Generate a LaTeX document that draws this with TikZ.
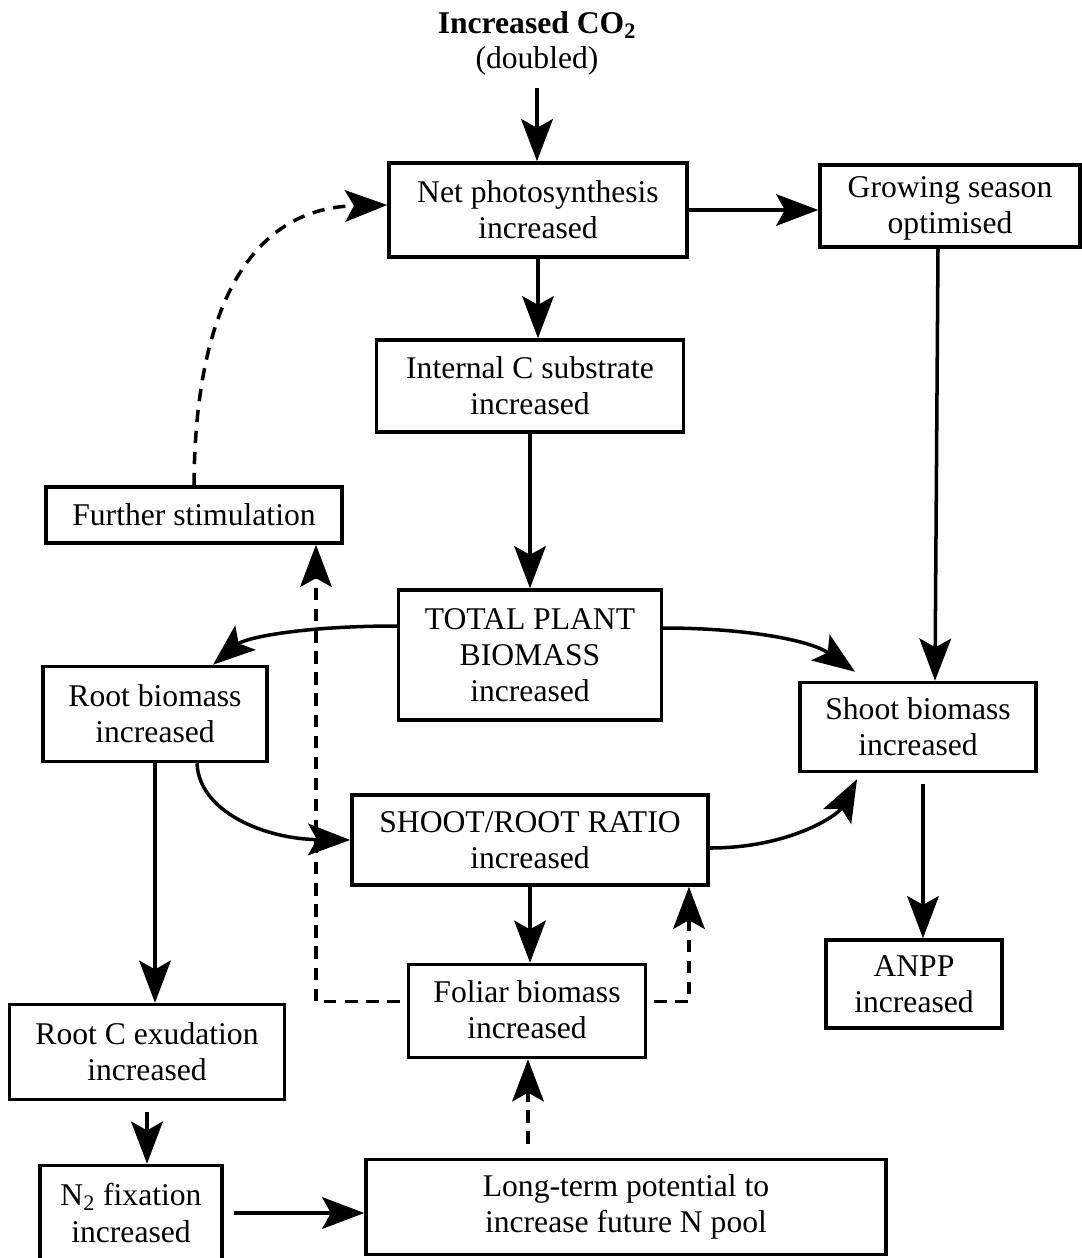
\documentclass[tikz,border=0pt]{standalone}
\usepackage{fontspec}
\setmainfont{Liberation Serif}
\usetikzlibrary{arrows.meta}

\newcommand{\boxfont}{\fontsize{18}{20.5}\selectfont}
% two-line label set a little lower inside its frame
\newcommand{\lowered}[2]{\raisebox{-#1}[\height][\depth]{\begin{tabular}{@{}c@{}}#2\end{tabular}}}

\tikzset{
  box/.style={draw, line width=2pt, align=center, inner sep=0pt, font=\boxfont},
  lbl/.style={align=center, inner sep=0pt, font=\boxfont},
  arr/.style={line width=2pt, -{Stealth[length=24pt, width=18pt, inset=5pt]}},
  darr/.style={arr, dash pattern=on 7pt off 5pt},
}

\begin{document}
\begin{tikzpicture}[x=0.02cm, y=-0.02cm]
\useasboundingbox[fill=white] (0,0) rectangle (1082,1258);

% header
\node[lbl, font=\boxfont\bfseries] (co2) at (537,25) {Increased CO\textsubscript{2}};
\node[lbl] (dbl) at (537,61) {(doubled)};

% boxes
\node[box, minimum width=5.96cm, minimum height=1.88cm] (net) at (538,210) {Net photosynthesis\\increased};
\node[box, minimum width=5.20cm, minimum height=1.64cm] (grow) at (950,206) {\lowered{0.04cm}{Growing season\\optimised}};
\node[box, minimum width=6.14cm, minimum height=1.84cm] (intc) at (530,386) {Internal C substrate\\increased};
\node[box, minimum width=5.92cm, minimum height=1.12cm] (further) at (194,515) {Further stimulation};
\node[box, minimum width=5.26cm, minimum height=2.60cm] (total) at (530,655) {TOTAL PLANT\\BIOMASS\\increased};
\node[box, minimum width=4.48cm, minimum height=1.90cm] (root) at (155,714) {Root biomass\\increased};
\node[box, minimum width=4.72cm, minimum height=1.78cm] (shoot) at (918,727) {Shoot biomass\\increased};
\node[box, minimum width=7.12cm, minimum height=1.80cm] (sr) at (530,840) {SHOOT/ROOT RATIO\\increased};
\node[box, minimum width=3.52cm, minimum height=1.76cm] (anpp) at (914,984) {ANPP\\increased};
\node[box, minimum width=4.74cm, minimum height=1.86cm] (foliar) at (527,1011) {\lowered{0.05cm}{Foliar biomass\\increased}};
\node[box, minimum width=5.50cm, minimum height=1.90cm] (rootc) at (147,1052) {Root C exudation\\increased};
\node[box, minimum width=3.64cm, minimum height=1.90cm] (n2) at (131,1213) {N\textsubscript{2} fixation\\increased};
\node[box, minimum width=10.40cm, minimum height=1.90cm] (long) at (626,1207) {Long-term potential to\\increase future N pool};

% solid connectors
\draw[arr, shorten <=7pt] (dbl.south) -- (dbl.south |- net.north);
\draw[arr] (net.east) -- (net.east -| grow.west);
\draw[arr] (net.south) -- (net.south |- intc.north);
\draw[arr] (intc.south) -- (intc.south |- total.north);
\draw[arr] ([xshift=-0.24cm]grow.south) -- ([xshift=0.34cm]shoot.north);
\draw[arr] ([yshift=0.58cm]total.west) .. controls (300,626) and (245,638) .. ([xshift=1.16cm]root.north);
\draw[arr] ([yshift=0.54cm]total.east) .. controls (745,628) and (810,640) .. ([xshift=-1.26cm, yshift=0.18cm]shoot.north);
\draw[arr] ([xshift=0.84cm]root.south) .. controls (199,812) and (265,839) .. (sr.west);
\draw[arr] ([yshift=-0.16cm]sr.east) .. controls (790,848) and (838,815) .. ([xshift=-1.22cm, yshift=-0.12cm]shoot.south);
\draw[arr, shorten <=6pt] ([xshift=0.1cm]shoot.south) -- ([xshift=0.1cm]shoot.south |- anpp.north);
\draw[arr] (sr.south) -- (sr.south |- foliar.north);
\draw[arr] (root.south) -- (root.south |- rootc.north);
\draw[arr, shorten <=6pt] (rootc.south) -- (rootc.south |- n2.north);
\draw[arr, shorten <=6pt] (n2.east) -- (n2.east -| long.west);

% dashed feedback connectors
\draw[darr] (further.north) .. controls (195,300) and (255,208) .. ([yshift=0.1cm]net.west);
\draw[darr, shorten <=4pt] ([yshift=0.19cm]foliar.west) -| ([xshift=2.44cm]further.south);
\draw[darr, shorten <=4pt] ([yshift=0.19cm]foliar.east) -| ([xshift=3.18cm]sr.south);
\draw[darr, shorten <=8pt] ([xshift=-1.96cm]long.north) -- ([xshift=-1.96cm]long.north |- foliar.south);
\end{tikzpicture}
\end{document}
